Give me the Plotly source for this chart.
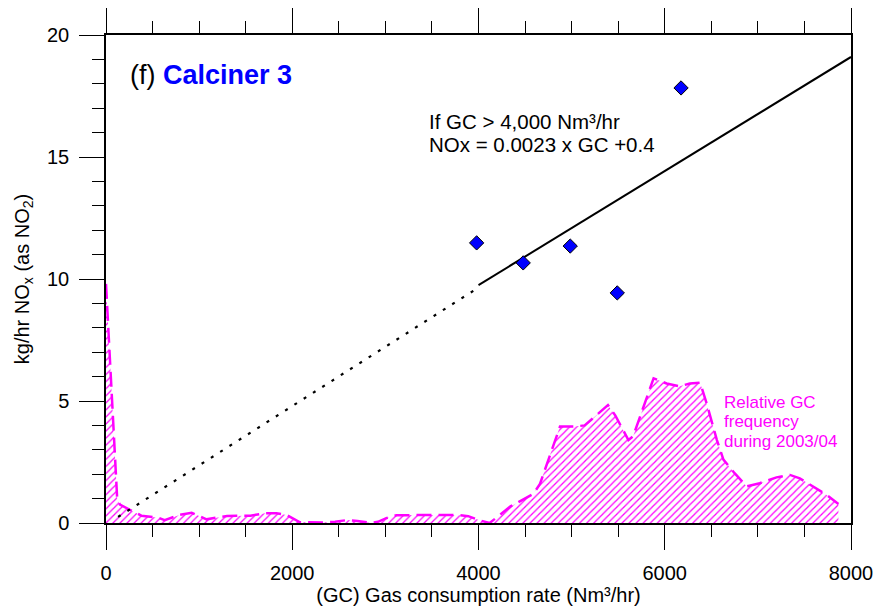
import plotly.graph_objects as go

# ---------------- data ----------------
gc_points = [3980, 4480, 4985, 5490, 6175]
nox_points = [11.48, 10.66, 11.35, 9.43, 17.83]

fit_solid_x = [4000, 8000]
fit_solid_y = [9.75, 19.1]
fit_dotted_x = [130, 4000]
fit_dotted_y = [0.25, 9.65]

freq_x = [0, 40, 95, 120, 150, 280, 380, 550, 630, 790, 920, 1080, 1300, 1550, 1710, 1830,
          1940, 2083, 2330, 2460, 2590, 2700, 2850, 2920, 3010, 3120, 3770, 3890, 4020, 4120,
          4340, 4590, 4660, 4875, 5020, 5140, 5390, 5470, 5610, 5660, 5880, 6020, 6160, 6270,
          6380, 6450, 6560, 6630, 6750, 6880, 7020, 7200, 7345, 7450, 7600, 7740, 7865]
freq_y = [9.8, 7.0, 2.7, 1.0, 0.75, 0.5, 0.3, 0.23, 0.12, 0.33, 0.42, 0.15, 0.29, 0.3, 0.4, 0.4,
          0.33, 0.03, 0.02, 0.05, 0.12, 0.08, 0.0, 0.05, 0.2, 0.32, 0.33, 0.28, 0.1, 0.0,
          0.67, 1.2, 1.6, 3.95, 3.95, 4.0, 4.83, 4.4, 3.4, 3.55, 5.93, 5.72, 5.6, 5.72,
          5.75, 4.9, 3.4, 2.6, 2.04, 1.5, 1.63, 1.87, 1.97, 1.83, 1.49, 1.15, 0.78]

x_ticks = [0, 2000, 4000, 6000, 8000]
y_ticks = [0, 5, 10, 15, 20]

FONT = "Liberation Sans, Arial, sans-serif"
MAGENTA = "#FF00FF"

# plot area in pixels (for annotation placement)
L, R, T, B = 106, 851, 35, 523
W, H = 876, 610


def px(xp):
    return (xp - L) / (R - L)


def py(yp):
    return (B - yp) / (B - T)


fig = go.Figure()

fig.add_trace(go.Scatter(
    x=freq_x, y=freq_y, mode="lines", fill="tozeroy",
    fillcolor="rgba(0,0,0,0)",
    fillpattern=dict(shape="/", fgcolor=MAGENTA, bgcolor="rgba(255,255,255,0)",
                     size=5, solidity=0.25, fillmode="replace"),
    line=dict(color=MAGENTA, width=2.5, dash="15px,7px"),
    showlegend=False, hoverinfo="skip"))

fig.add_trace(go.Scatter(
    x=fit_dotted_x, y=fit_dotted_y, mode="lines",
    line=dict(color="black", width=2.2, dash="3px,8px"), showlegend=False))

fig.add_trace(go.Scatter(
    x=fit_solid_x, y=fit_solid_y, mode="lines",
    line=dict(color="black", width=2), showlegend=False))

fig.add_trace(go.Scatter(
    x=gc_points, y=nox_points, mode="markers",
    marker=dict(symbol="diamond", size=11, color="#0000FF",
                line=dict(color="black", width=1)),
    showlegend=False))

fig.update_xaxes(
    range=[0, 8000], tickvals=x_ticks, ticks="outside", ticklen=25, tickwidth=1,
    tickcolor="black", showline=True, linecolor="black", linewidth=1.5,
    mirror="ticks", showgrid=False, zeroline=False, automargin=False,
    minor=dict(dtick=500, tick0=0, ticklen=12, ticks="outside", tickcolor="black",
               tickwidth=1, showgrid=False),
    tickfont=dict(family=FONT, size=20, color="black"),
    ticklabelstandoff=6,
    title=dict(text="(GC) Gas consumption rate (Nm³/hr)",
               font=dict(family=FONT, size=20, color="black"), standoff=4),
)
fig.update_yaxes(
    range=[0, 20], tickvals=y_ticks, ticks="outside", ticklen=25, tickwidth=1,
    tickcolor="black", showline=True, linecolor="black", linewidth=1.5,
    mirror=True, showgrid=False, zeroline=False, automargin=False,
    minor=dict(dtick=1, tick0=0, ticklen=12, ticks="outside", tickcolor="black",
               tickwidth=1, showgrid=False),
    tickfont=dict(family=FONT, size=20, color="black"),
    ticklabelstandoff=6,
    title=dict(text="kg/hr NO<sub>x</sub> (as NO<sub>2</sub>)",
               font=dict(family=FONT, size=20, color="black"), standoff=12),
)

annotations = [
    dict(x=px(128), y=py(75), text="(f) <b><span style='color:#0000FF'>Calciner 3</span></b>",
         font=dict(family=FONT, size=27, color="black")),
    dict(x=px(427), y=py(121), text="If GC > 4,000 Nm³/hr",
         font=dict(family=FONT, size=20.5, color="black")),
    dict(x=px(427), y=py(144.5), text="NOx = 0.0023 x GC +0.4",
         font=dict(family=FONT, size=20.5, color="black")),
    dict(x=px(722), y=py(402), text="Relative GC",
         font=dict(family=FONT, size=17, color=MAGENTA)),
    dict(x=px(722), y=py(421.5), text="frequency",
         font=dict(family=FONT, size=17, color=MAGENTA)),
    dict(x=px(722), y=py(441), text="during 2003/04",
         font=dict(family=FONT, size=17, color=MAGENTA)),
]
for a in annotations:
    a.update(xref="paper", yref="paper", xanchor="left", yanchor="middle",
             showarrow=False, align="left")

fig.update_layout(
    width=W, height=H, autosize=False,
    margin=dict(l=L, r=W - R, t=T, b=H - B, pad=0),
    paper_bgcolor="white", plot_bgcolor="white",
    font=dict(family=FONT, size=20, color="black"),
    annotations=annotations,
)

fig.write_html("out.html")
